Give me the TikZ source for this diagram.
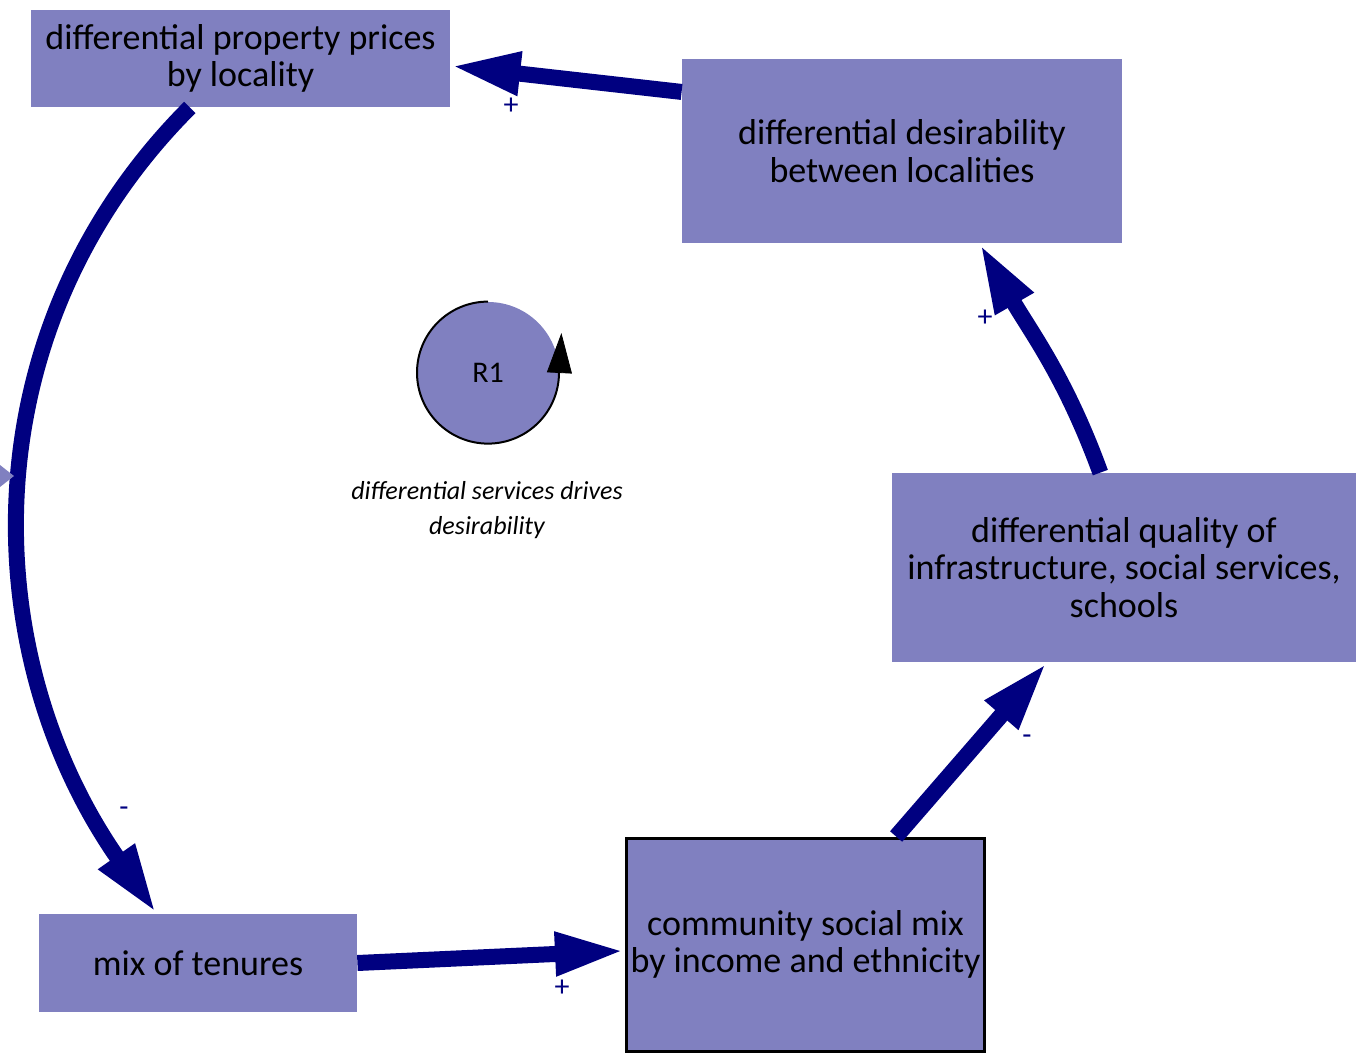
\documentclass[tikz,border=0pt]{standalone}
\usepackage{fontspec}
\setmainfont{Carlito}
\usepackage{tikz}
\usetikzlibrary{arrows.meta}
\definecolor{boxblue}{RGB}{128,128,192}
\definecolor{linkblue}{RGB}{0,0,128}

\begin{document}
\begin{tikzpicture}[x=0.5pt,y=0.5pt,
    factor/.style={fill=boxblue,inner sep=0pt,align=center,font=\fontsize{18}{18.75}\selectfont},
    link/.style={draw=linkblue,line width=8pt,-{Triangle[length=35pt,width=20pt]}},
    sign/.style={text=linkblue,inner sep=0pt,font=\fontsize{15}{15}\selectfont}]

    \useasboundingbox (0,0) rectangle (1356,-1060);

    % factors
    \node (prices) at (240.5,-58.5) [factor,minimum width=209.5pt,minimum height=48.5pt] {differential property prices\\by locality};
    \node (desir) at (902,-151) [factor,minimum width=220pt,minimum height=92pt] {differential desirability\\between localities};
    \node (quality) at (1124,-567.5) [factor,minimum width=232pt,minimum height=94.5pt] {differential quality of\\infrastructure, social services,\\schools};
    \node (comm) at (805.5,-944.5) [factor,draw=black,line width=1.5pt,minimum width=179pt,minimum height=106.5pt] {community social mix\\by income and ethnicity};
    \node (tenures) at (198,-963) [factor,minimum width=159pt,minimum height=49pt] {mix of tenures};

    % loop marker
    \node (loop) at (488,-373) [circle,fill=boxblue,inner sep=0pt,minimum size=71pt,font=\fontsize{15}{15}\selectfont] {R1};
    \draw[line width=1pt] (loop.north) arc[start angle=90,end angle=360,radius=71];
    \draw[-{Triangle[length=20pt,width=12.5pt]}] (loop.east) -- ++(2,40);
    \node (note) at (487,-510) [align=center,font=\fontsize{13}{17.5}\selectfont\itshape] {differential services drives\\desirability};

    % links
    \draw[link] (desir.165) -- (prices.-2);
    \draw[link] (prices.224) to[out=225,in=125,looseness=1.0] (tenures.130);
    \draw[link] (tenures.east) -- (comm.182);
    \draw[link] (comm.50) -- (quality.231);
    \draw[link] (quality.104) to[out=110,in=-60] (desir.-50);

    % polarities
    \node (s1) at (511,-106) [sign] {+};
    \node (s2) at (124,-812) [sign] {-};
    \node (s3) at (562,-988) [sign] {+};
    \node (s4) at (1027,-740) [sign] {-};
    \node (s5) at (985,-318) [sign] {+};

    \fill[boxblue] (0,-465) -- (14,-476) -- (0,-487) -- cycle;

\end{tikzpicture}
\end{document}
